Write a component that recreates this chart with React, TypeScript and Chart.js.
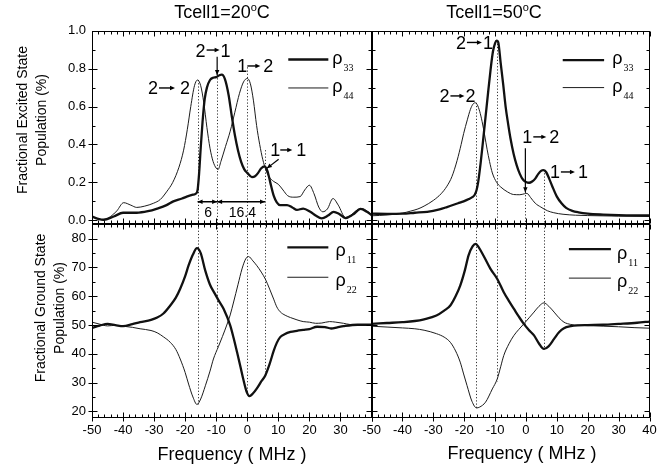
import React, { useEffect, useRef } from "react";
import { Chart, registerables } from "chart.js";
Chart.register(...registerables);

const SANS = "'Liberation Sans', Arial, Helvetica, sans-serif";
const SERIF = "'Liberation Serif', 'Times New Roman', serif";

// ---------------- tick labels ----------------
const xTicksLeft = [-50, -40, -30, -20, -10, 0, 10, 20, 30];
const xTicksRight = [-50, -40, -30, -20, -10, 0, 10, 20, 30, 40];
const yTopTicks = [0, 0.2, 0.4, 0.6, 0.8, 1.0];
const yBotTicks = [20, 30, 40, 50, 60, 70, 80];

// ---------------- Tcell1 = 20 °C, excited state ----------------
const tl33F = [-50, -48, -46.3, -43, -40, -35.6, -32, -29, -26, -23.8, -21, -19.5, -17.5, -16.6, -16, -15.5, -15, -14.4, -13.7, -13, -12, -11, -10, -9, -8.2, -7.2, -6, -5, -4, -3, -2, -1, 0, 1.5, 2.5, 3.5, 4.5, 5.6, 6.5, 7.4, 8.5, 9.5, 10.6, 12, 12.8, 14.5, 16, 18, 20.3, 22, 24, 26, 27.8, 29.5, 31.6, 34, 36.5, 38.5, 40];
const tl33 = [0.02, 0.008, 0.003, 0.02, 0.04, 0.04, 0.048, 0.062, 0.08, 0.1, 0.115, 0.125, 0.135, 0.14, 0.16, 0.25, 0.38, 0.52, 0.64, 0.7, 0.74, 0.752, 0.755, 0.765, 0.768, 0.745, 0.66, 0.55, 0.45, 0.37, 0.31, 0.27, 0.25, 0.228, 0.232, 0.25, 0.275, 0.285, 0.26, 0.2, 0.13, 0.095, 0.08, 0.08, 0.08, 0.068, 0.055, 0.062, 0.045, 0.025, 0.01, 0.025, 0.045, 0.035, 0.012, 0.03, 0.06, 0.045, 0.028];
const tl44F = [-50, -48, -46.3, -44, -42, -39.8, -37.5, -35.6, -33, -30.2, -28, -26, -24, -22, -20.5, -19.3, -18.2, -17, -16, -15, -14, -13, -12, -11, -10, -9.4, -8.5, -7, -5.5, -4, -2.5, -1.2, 0, 1, 2, 3, 4, 5, 6, 7, 8.5, 10, 11.5, 13, 15, 17, 18.5, 20, 21.5, 23, 24.3, 25.8, 27.6, 29.3, 31.6, 33.2, 35, 37, 38.5, 40];
const tl44 = [0.02, 0.008, 0.003, 0.02, 0.05, 0.093, 0.08, 0.068, 0.075, 0.09, 0.11, 0.15, 0.2, 0.28, 0.37, 0.48, 0.6, 0.71, 0.74, 0.71, 0.62, 0.49, 0.38, 0.31, 0.275, 0.268, 0.31, 0.39, 0.47, 0.57, 0.67, 0.73, 0.748, 0.72, 0.63, 0.5, 0.4, 0.32, 0.265, 0.23, 0.205, 0.19, 0.16, 0.13, 0.122, 0.125, 0.16, 0.185, 0.14, 0.07, 0.045, 0.06, 0.115, 0.08, 0.015, 0.025, 0.05, 0.062, 0.05, 0.03];

// ---------------- Tcell1 = 50 °C, excited state ----------------
const tr33F = [-50, -45, -40, -36, -32, -28, -25.6, -22, -20.2, -18.5, -17.4, -16.6, -16, -15.5, -14.7, -13.9, -13.1, -12.3, -11.5, -10.7, -10, -9.5, -9, -8.2, -7.4, -6.6, -5.8, -5, -4, -3, -2, -1, 0, 1, 2, 3, 4, 5, 5.6, 6.5, 7.5, 8.5, 10, 11.5, 13, 15, 17, 20, 25, 30, 35, 40];
const tr33 = [0.035, 0.034, 0.035, 0.04, 0.045, 0.058, 0.07, 0.09, 0.1, 0.112, 0.122, 0.135, 0.16, 0.2, 0.3, 0.42, 0.545, 0.67, 0.79, 0.89, 0.935, 0.948, 0.94, 0.83, 0.72, 0.6, 0.51, 0.43, 0.35, 0.29, 0.245, 0.215, 0.202, 0.198, 0.205, 0.22, 0.245, 0.262, 0.265, 0.255, 0.22, 0.18, 0.125, 0.09, 0.066, 0.05, 0.042, 0.035, 0.03, 0.027, 0.026, 0.026];
const tr44F = [-50, -45, -40, -37.5, -35, -33, -30, -27.5, -25.6, -24, -22.3, -21, -20.2, -19, -18, -17.2, -16.5, -15.8, -15, -14.2, -13.4, -12.6, -11.8, -10.9, -9.5, -8.2, -6, -4, -2, -0.5, 0.3, 1.5, 3, 4.8, 7, 9, 12, 16, 20, 30, 40];
const tr44 = [0.024, 0.028, 0.038, 0.048, 0.06, 0.075, 0.105, 0.14, 0.18, 0.23, 0.316, 0.4, 0.457, 0.53, 0.585, 0.612, 0.62, 0.61, 0.575, 0.52, 0.45, 0.375, 0.31, 0.25, 0.2, 0.176, 0.15, 0.136, 0.135, 0.14, 0.142, 0.12, 0.09, 0.07, 0.05, 0.04, 0.032, 0.027, 0.025, 0.022, 0.02];

// ---------------- Tcell1 = 20 °C, ground state ----------------
const bl11F = [-50, -47.5, -45, -42.5, -40, -37, -34.5, -31, -29, -27, -24.8, -23, -21.6, -20, -18.9, -17.5, -16.2, -15, -13.5, -12, -10.5, -9.2, -7.6, -5.5, -4.4, -3.3, -2.2, -1.2, -0.2, 0.7, 1.8, 3.1, 4.5, 5.8, 7.2, 8.5, 9.5, 10.6, 12, 13.9, 16, 18, 20, 22.5, 25, 27, 29, 31, 35.5, 40];
const bl11 = [49.0, 49.8, 50.4, 50.0, 49.6, 50.3, 51.0, 51.8, 52.6, 54.0, 56.8, 59.5, 62.6, 67.0, 70.7, 74.5, 76.7, 75.0, 68.8, 64.0, 61.0, 58.5, 55.6, 49.9, 45.5, 40.6, 35.5, 30.8, 26.8, 25.3, 26.2, 28.0, 30.4, 32.5, 36.5, 41.0, 43.8, 45.8, 46.8, 47.6, 48.0, 48.3, 48.6, 49.4, 49.3, 48.8, 49.2, 49.6, 50.1, 50.1];
const bl22F = [-50, -47.5, -45, -42.5, -40, -37, -34.5, -31, -29, -27, -24.8, -23, -21.6, -20, -18.9, -17.5, -16.2, -15, -13.5, -12, -10.9, -9.3, -8, -6.6, -5.5, -4.4, -3, -1.7, -0.5, 0.4, 1.8, 3.1, 4.5, 5.8, 7.2, 8.5, 9.5, 10.6, 12.2, 13.9, 16, 18, 20, 22, 24, 26.5, 28.5, 31, 33, 36, 40];
const bl22 = [51.0, 50.3, 49.7, 49.9, 49.6, 49.2, 48.7, 48.1, 47.3, 45.9, 44.0, 41.5, 38.2, 33.5, 29.5, 25.0, 22.4, 24.3, 28.9, 34.0, 38.2, 42.5, 46.0, 50.0, 53.5, 58.0, 64.0, 69.5, 73.0, 73.8, 72.3, 70.6, 68.4, 66.0, 62.5, 59.0, 56.3, 54.6, 53.4, 52.6, 51.8, 51.2, 51.0, 50.6, 50.7, 51.2, 51.0, 50.6, 50.2, 50.1, 50.0];

// ---------------- Tcell1 = 50 °C, ground state ----------------
const br11F = [-50, -45, -40, -36, -33, -29, -26.5, -24.5, -22.8, -21.3, -19.8, -18.6, -17.3, -16.3, -15.3, -13.7, -11.5, -9.3, -7.2, -5.5, -3.9, -2.3, -0.7, 1, 2.6, 4.2, 5.8, 7.3, 9.1, 10.7, 12.3, 14.5, 16.7, 20, 25, 30, 36, 40];
const br11 = [50.4, 50.7, 51.0, 51.4, 52.0, 53.3, 55.0, 56.8, 60.0, 63.7, 69.0, 74.2, 77.3, 78.2, 77.0, 74.0, 69.5, 66.0, 61.4, 58.3, 55.6, 52.9, 50.4, 48.2, 46.4, 43.6, 41.7, 42.6, 45.2, 47.5, 48.9, 49.6, 49.9, 50.0, 50.1, 50.4, 50.8, 51.2];
const br22F = [-50, -45, -40, -36, -33, -29, -26.5, -24.5, -22.8, -21.3, -20.2, -19.1, -17.5, -16, -15, -13.1, -10.9, -9.3, -8.2, -7.2, -5.5, -3.9, -2.3, -0.7, 1, 2.6, 4.2, 5.8, 7.4, 9.1, 10.7, 12.3, 14.5, 17, 20, 25, 30, 35, 40];
const br22 = [49.6, 49.3, 49.0, 48.7, 48.2, 47.0, 45.8, 44.0, 41.0, 37.1, 33.0, 29.0, 23.5, 21.2, 21.5, 23.2, 27.8, 31.3, 35.5, 39.4, 43.5, 46.4, 48.5, 50.4, 52.5, 54.5, 56.5, 57.7, 56.5, 54.5, 52.5, 51.0, 50.2, 49.9, 49.8, 49.6, 49.4, 49.1, 48.9];

// ---------------- transition markers (MHz) ----------------
const markFreqL = [-16, -9.7, 0, 5.7];
const markFreqR = [-16.2, -9.5, -0.2, 5.7];
const tlMarkFrom = [0.74, 0.766, 0.807, 0.37];
const trMarkFrom = [0.62, 0.948, 0.15, 0.265];
const blMarkTo = [22.4, 41.7, 25.3, 33.6];
const brMarkTo = [21.1, 30.4, 49.9, 41.5];

const TOP_MIN = -0.021, TOP_MAX = 1.0, BOT_MIN = 17.7, BOT_MAX = 85;

type Trans = { f: number; y: number; a: string; b: string; len: number; g1: number; g2: number };
type Arrow = { f0: number; y0: number; f1: number; y1: number; both?: boolean; w?: number };
type Txt = { f: number; y: number; t: string; size: number };
type Leg = { f0: number; f1: number; y: number; tf: number; ty: number };

interface PanelSpec {
  rect: { l: number; r: number; t: number; b: number };
  showX: boolean; showY: boolean;
  yMin: number; yMax: number;
  yTicks: number[]; yMinorStep: number; yFmt: (v: number) => string;
  xTicks: number[];
  series: { label: string; xs: number[]; ys: number[]; thick: boolean }[];
  marks: { f: number; y0: number; y1: number }[];
  trans: Trans[]; arrows: Arrow[]; texts: Txt[]; legend: Leg[];
}

function drawHead(ctx: CanvasRenderingContext2D, x0: number, y0: number, x1: number, y1: number, len = 5, half = 2.3) {
  const ang = Math.atan2(y1 - y0, x1 - x0);
  const c = Math.cos(ang), s = Math.sin(ang);
  ctx.beginPath();
  ctx.moveTo(x1, y1);
  ctx.lineTo(x1 - len * c + half * s, y1 - len * s - half * c);
  ctx.lineTo(x1 - len * c - half * s, y1 - len * s + half * c);
  ctx.closePath();
  ctx.fill();
}

function makePlugin(spec: PanelSpec) {
  return {
    id: "panelDeco",
    beforeDatasetsDraw(chart: any) {
      const { ctx, scales } = chart;
      const x = scales.x, y = scales.y;
      ctx.save();
      ctx.strokeStyle = "#333";
      ctx.lineWidth = 1;
      ctx.setLineDash([1.2, 2]);
      spec.marks.forEach((m) => {
        const px = Math.round(x.getPixelForValue(m.f)) + 0.5;
        ctx.beginPath();
        ctx.moveTo(px, y.getPixelForValue(m.y0));
        ctx.lineTo(px, y.getPixelForValue(m.y1));
        ctx.stroke();
      });
      ctx.restore();
    },
    afterDatasetsDraw(chart: any) {
      const { ctx, chartArea: a, scales } = chart;
      const x = scales.x, y = scales.y;
      ctx.save();
      ctx.strokeStyle = "#000";
      ctx.fillStyle = "#000";
      ctx.lineWidth = 1;
      const L = Math.round(a.left) + 0.5, R = Math.round(a.right) - 0.5;
      const T = Math.round(a.top) + 0.5, B = Math.round(a.bottom) - 0.5;
      ctx.strokeRect(L, T, R - L, B - T);
      ctx.beginPath();
      for (let v = -50; v <= 40; v += 2) {
        const major = v % 10 === 0;
        const len = major ? 5 : 3;
        const px = Math.round(x.getPixelForValue(v)) + 0.5;
        ctx.moveTo(px, B); ctx.lineTo(px, B - len);
        ctx.moveTo(px, T); ctx.lineTo(px, T + len);
        if (spec.showX && major) { ctx.moveTo(px, B); ctx.lineTo(px, B + 4); }
      }
      const y0 = spec.yTicks[0];
      for (let k = 0; ; k++) {
        const v = y0 + k * spec.yMinorStep;
        if (v > spec.yMax - 1e-9) break;
        const major = k % 2 === 0;
        const len = major ? 5 : 3;
        const py = Math.round(y.getPixelForValue(v)) + 0.5;
        ctx.moveTo(L, py); ctx.lineTo(L + len, py);
        ctx.moveTo(R, py); ctx.lineTo(R - len, py);
        if (spec.showY && major) { ctx.moveTo(L, py); ctx.lineTo(L - 4, py); }
      }
      ctx.stroke();

      // transition labels
      ctx.font = `18px ${SANS}`;
      ctx.textBaseline = "alphabetic";
      ctx.textAlign = "left";
      spec.trans.forEach((t) => {
        const cx = x.getPixelForValue(t.f), cy = y.getPixelForValue(t.y);
        const wa = ctx.measureText(t.a).width, wb = ctx.measureText(t.b).width;
        const total = wa + t.g1 + t.len + t.g2 + wb;
        const x0 = cx - total / 2;
        const base = cy + 6.5;
        ctx.fillText(t.a, x0, base);
        const ax0 = x0 + wa + t.g1, ax1 = ax0 + t.len;
        ctx.lineWidth = 1.4;
        ctx.beginPath(); ctx.moveTo(ax0, cy); ctx.lineTo(ax1 - 3, cy); ctx.stroke();
        drawHead(ctx, ax0, cy, ax1, cy, 5, 2.2);
        ctx.fillText(t.b, ax1 + t.g2, base);
      });

      // arrows
      spec.arrows.forEach((ar) => {
        const p0x = x.getPixelForValue(ar.f0), p0y = y.getPixelForValue(ar.y0);
        const p1x = x.getPixelForValue(ar.f1), p1y = y.getPixelForValue(ar.y1);
        ctx.lineWidth = ar.w ?? 1.2;
        ctx.beginPath(); ctx.moveTo(p0x, p0y); ctx.lineTo(p1x, p1y); ctx.stroke();
        drawHead(ctx, p0x, p0y, p1x, p1y, 5, 2.2);
        if (ar.both) drawHead(ctx, p1x, p1y, p0x, p0y, 5, 2.2);
      });

      // plain texts
      ctx.textAlign = "center";
      ctx.textBaseline = "middle";
      spec.texts.forEach((t) => {
        ctx.font = `${t.size}px ${SANS}`;
        ctx.fillText(t.t, x.getPixelForValue(t.f), y.getPixelForValue(t.y) + 1);
      });

      // legend
      ctx.textAlign = "left";
      ctx.textBaseline = "alphabetic";
      spec.legend.forEach((lg, i) => {
        const ds = chart.data.datasets[i];
        const ly = y.getPixelForValue(lg.y);
        ctx.strokeStyle = ds.borderColor;
        ctx.lineWidth = ds.borderWidth;
        ctx.beginPath();
        ctx.moveTo(x.getPixelForValue(lg.f0), ly);
        ctx.lineTo(x.getPixelForValue(lg.f1), ly);
        ctx.stroke();
        const tx = x.getPixelForValue(lg.tf), ty = y.getPixelForValue(lg.ty);
        ctx.font = `18px ${SANS}`;
        ctx.fillText(ds.label.charAt(0), tx, ty);
        const w = ctx.measureText(ds.label.charAt(0)).width;
        ctx.font = `10px ${SERIF}`;
        ctx.fillText(ds.label.slice(1), tx + w + 1, ty + 7);
      });
      ctx.restore();
    },
  };
}

function buildConfig(spec: PanelSpec): any {
  const W = 669, H = 467, YW = 50, XH = 30;
  const r = spec.rect;
  const datasets = spec.series.map((s) => ({
    label: s.label,
    data: s.xs.map((xv, i) => ({ x: xv, y: s.ys[i] })),
    borderColor: s.thick ? "#111" : "#1c1c1c",
    borderWidth: s.thick ? 2.3 : 1,
    pointRadius: 0,
    fill: false,
    cubicInterpolationMode: "monotone",
  }));
  const font = { family: SANS, size: 13 };
  return {
    type: "line",
    data: { datasets },
    plugins: [makePlugin(spec)],
    options: {
      animation: false,
      responsive: false,
      devicePixelRatio: 1,
      events: [],
      layout: {
        padding: {
          left: spec.showY ? r.l - YW : r.l,
          right: W - r.r,
          top: r.t,
          bottom: spec.showX ? H - r.b - XH : H - r.b,
        },
      },
      plugins: { legend: { display: false }, tooltip: { enabled: false }, title: { display: false } },
      scales: {
        x: {
          type: "linear",
          min: -50,
          max: 40,
          display: spec.showX,
          afterBuildTicks: (s: any) => { s.ticks = spec.xTicks.map((v) => ({ value: v })); },
          afterFit: (s: any) => { s.height = spec.showX ? XH : 0; },
          grid: { display: false, drawTicks: false },
          border: { display: false },
          ticks: { font, color: "#000", padding: 5, maxRotation: 0, autoSkip: false, callback: (v: any) => String(v) },
        },
        y: {
          type: "linear",
          min: spec.yMin,
          max: spec.yMax,
          display: spec.showY,
          afterBuildTicks: (s: any) => { s.ticks = spec.yTicks.map((v) => ({ value: v })); },
          afterFit: (s: any) => { s.width = spec.showY ? YW : 0; },
          grid: { display: false, drawTicks: false },
          border: { display: false },
          ticks: { font, color: "#000", padding: 6, autoSkip: false, callback: (v: any) => spec.yFmt(Number(v)) },
        },
      },
    },
  };
}

const RECT_TL = { l: 92, r: 371.5, t: 30.7, b: 224.3 };
const RECT_TR = { l: 371.6, r: 649.5, t: 30.7, b: 224.3 };
const RECT_BL = { l: 92, r: 371.5, t: 224.3, b: 418 };
const RECT_BR = { l: 371.6, r: 649.5, t: 224.3, b: 418 };

const fmt1 = (v: number) => v.toFixed(1);
const fmt0 = (v: number) => String(Math.round(v));

const panels: PanelSpec[] = [
  {
    rect: RECT_TL, showX: false, showY: true, yMin: TOP_MIN, yMax: TOP_MAX,
    yTicks: yTopTicks, yMinorStep: 0.1, yFmt: fmt1, xTicks: xTicksLeft,
    series: [
      { label: "ρ33", xs: tl33F, ys: tl33, thick: true },
      { label: "ρ44", xs: tl44F, ys: tl44, thick: false },
    ],
    marks: markFreqL.map((f, i) => ({ f, y0: tlMarkFrom[i], y1: TOP_MIN })),
    trans: [
      { f: -25.2, y: 0.698, a: "2", b: "2", len: 16, g1: 1, g2: 5 },
      { f: -11.0, y: 0.898, a: "2", b: "1", len: 13, g1: 1, g2: 1 },
      { f: 2.6, y: 0.814, a: "1", b: "2", len: 13, g1: 0, g2: 3 },
      { f: 13.2, y: 0.371, a: "1", b: "1", len: 12, g1: 0, g2: 4 },
    ],
    arrows: [
      { f0: -9.7, y0: 0.862, f1: -9.7, y1: 0.766 },
      { f0: 10.1, y0: 0.322, f1: 6.3, y1: 0.274 },
      { f0: -16, y0: 0.098, f1: -9.7, y1: 0.098, both: true, w: 1.5 },
      { f0: -9.7, y0: 0.098, f1: 5.7, y1: 0.098, both: true, w: 1.5 },
    ],
    texts: [
      { f: -12.6, y: 0.045, t: "6", size: 14 },
      { f: -1.6, y: 0.045, t: "16.4", size: 14 },
    ],
    legend: [
      { f0: 13.2, f1: 26.1, y: 0.848, tf: 27.4, ty: 0.827 },
      { f0: 13.2, f1: 26.1, y: 0.698, tf: 27.4, ty: 0.677 },
    ],
  },
  {
    rect: RECT_TR, showX: false, showY: false, yMin: TOP_MIN, yMax: TOP_MAX,
    yTicks: yTopTicks, yMinorStep: 0.1, yFmt: fmt1, xTicks: xTicksRight,
    series: [
      { label: "ρ33", xs: tr33F, ys: tr33, thick: true },
      { label: "ρ44", xs: tr44F, ys: tr44, thick: false },
    ],
    marks: markFreqR.map((f, i) => ({ f, y0: trMarkFrom[i], y1: TOP_MIN })),
    trans: [
      { f: -22.2, y: 0.656, a: "2", b: "2", len: 14, g1: 1, g2: 1 },
      { f: -16.7, y: 0.938, a: "2", b: "1", len: 15, g1: 1, g2: 1 },
      { f: 4.8, y: 0.44, a: "1", b: "2", len: 13, g1: 1, g2: 3 },
      { f: 13.9, y: 0.255, a: "1", b: "1", len: 14, g1: 1, g2: 3 },
    ],
    arrows: [{ f0: -0.2, y0: 0.38, f1: -0.2, y1: 0.148 }],
    texts: [],
    legend: [
      { f0: 11.9, f1: 25.3, y: 0.845, tf: 27.9, ty: 0.824 },
      { f0: 11.9, f1: 25.3, y: 0.7, tf: 27.9, ty: 0.679 },
    ],
  },
  {
    rect: RECT_BL, showX: true, showY: true, yMin: BOT_MIN, yMax: BOT_MAX,
    yTicks: yBotTicks, yMinorStep: 5, yFmt: fmt0, xTicks: xTicksLeft,
    series: [
      { label: "ρ11", xs: bl11F, ys: bl11, thick: true },
      { label: "ρ22", xs: bl22F, ys: bl22, thick: false },
    ],
    marks: markFreqL.map((f, i) => ({ f, y0: BOT_MAX, y1: blMarkTo[i] })),
    trans: [], arrows: [], texts: [],
    legend: [
      { f0: 12.9, f1: 26.1, y: 77.0, tf: 28.4, ty: 73.9 },
      { f0: 12.9, f1: 26.1, y: 66.6, tf: 28.4, ty: 63.6 },
    ],
  },
  {
    rect: RECT_BR, showX: true, showY: false, yMin: BOT_MIN, yMax: BOT_MAX,
    yTicks: yBotTicks, yMinorStep: 5, yFmt: fmt0, xTicks: xTicksRight,
    series: [
      { label: "ρ11", xs: br11F, ys: br11, thick: true },
      { label: "ρ22", xs: br22F, ys: br22, thick: false },
    ],
    marks: markFreqR.map((f, i) => ({ f, y0: BOT_MAX, y1: brMarkTo[i] })),
    trans: [], arrows: [], texts: [],
    legend: [
      { f0: 13.9, f1: 27.5, y: 76.4, tf: 29.5, ty: 73.0 },
      { f0: 13.9, f1: 27.5, y: 66.3, tf: 29.5, ty: 63.2 },
    ],
  },
];

function PanelCanvas({ spec }: { spec: PanelSpec }) {
  const ref = useRef<HTMLCanvasElement>(null);
  useEffect(() => {
    const chart = new Chart(ref.current as HTMLCanvasElement, buildConfig(spec));
    return () => chart.destroy();
  }, [spec]);
  return (
    <canvas
      ref={ref}
      width={669}
      height={467}
      style={{ position: "absolute", left: 0, top: 0, width: 669, height: 467 }}
    />
  );
}

const centered = (x: number, y: number, size: number, extra: any = {}): any => ({
  position: "absolute",
  left: x,
  top: y,
  transform: "translate(-50%, -50%)",
  whiteSpace: "nowrap",
  fontSize: size,
  lineHeight: `${size}px`,
  fontFamily: SANS,
  color: "#000",
  ...extra,
});

const sup: any = { fontSize: 11, position: "relative", top: -7 };

export default function App() {
  return (
    <div
      style={{
        position: "absolute",
        left: 0,
        top: 0,
        width: 669,
        height: 467,
        background: "#fff",
        overflow: "hidden",
      }}
    >
      {panels.map((p, i) => (
        <PanelCanvas key={i} spec={p} />
      ))}
      <div style={centered(222, 13, 18)}>
        Tcell1=20<span style={sup}>o</span>C
      </div>
      <div style={centered(494, 13, 18)}>
        Tcell1=50<span style={sup}>o</span>C
      </div>
      <div style={centered(232, 454, 18)}>Frequency ( MHz )</div>
      <div style={centered(522, 453, 18)}>Frequency ( MHz )</div>
      <div
        style={centered(31.5, 120, 14, {
          transform: "translate(-50%, -50%) rotate(-90deg)",
          lineHeight: "19px",
          textAlign: "center",
        })}
      >
        Fractional Excited State
        <br />
        Population (%)
      </div>
      <div
        style={centered(49.5, 308, 14, {
          transform: "translate(-50%, -50%) rotate(-90deg)",
          lineHeight: "19px",
          textAlign: "center",
        })}
      >
        Fractional Ground State
        <br />
        Population (%)
      </div>
    </div>
  );
}
